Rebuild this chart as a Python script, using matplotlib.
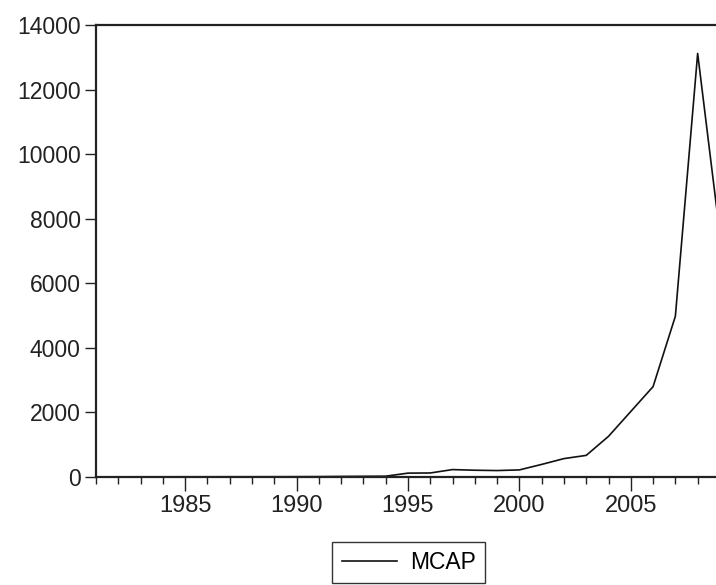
import matplotlib
matplotlib.use('Agg')
import matplotlib.pyplot as plt
from matplotlib.ticker import MultipleLocator

# 数据
years = list(range(1981, 2010))
mcap = [5, 5, 6, 6, 7, 7, 8, 8, 9, 10, 12, 18, 22, 25,
        120, 125, 230, 210, 200, 220, 390, 570, 670, 1260,
        2030, 2800, 4980, 13120, 7500]
y_ticks = [0, 2000, 4000, 6000, 8000, 10000, 12000, 14000]
x_ticks = [1985, 1990, 1995, 2000, 2005]

plt.rcParams['font.family'] = ['Liberation Sans', 'DejaVu Sans']

fig = plt.figure(figsize=(7.16, 5.85), dpi=100)
# 右边界略超出画布，模拟原图裁切效果
ax = fig.add_axes([0.134, 0.1846, 0.8715, 0.7726])

ax.plot(years, mcap, color='#111111', linewidth=1.2, label='MCAP')

ax.set_xlim(1981, 2009)
ax.set_ylim(0, 14000)
ax.set_yticks(y_ticks)
ax.set_xticks(x_ticks)
ax.xaxis.set_minor_locator(MultipleLocator(1))

for side in ['left', 'right', 'top', 'bottom']:
    ax.spines[side].set_linewidth(1.6)
    ax.spines[side].set_color('#222222')

ax.tick_params(axis='y', direction='out', length=8, width=1, labelsize=16.5,
               pad=3, colors='#222222')
ax.tick_params(axis='x', which='major', direction='out', length=10, width=1,
               labelsize=17, pad=3, colors='#222222')
ax.tick_params(axis='x', which='minor', direction='out', length=5, width=1,
               colors='#222222')

leg = fig.legend(loc='upper center', bbox_to_anchor=(0.571, 0.074), fontsize=16.5,
                 frameon=True, fancybox=False, edgecolor='#333333', handlelength=2.4,
                 borderpad=0.4, framealpha=1, handletextpad=0.6, borderaxespad=0)

plt.savefig('out.png', dpi=100)
plt.close()
